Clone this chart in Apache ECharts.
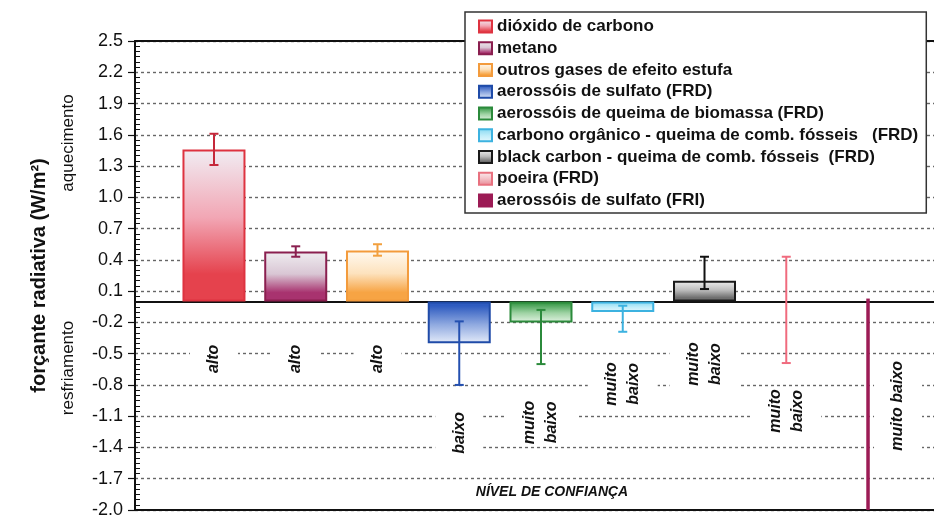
<!DOCTYPE html>
<html>
<head>
<meta charset="utf-8">
<script src="https://cdn.jsdelivr.net/npm/echarts@6/dist/echarts.min.js"></script>
<style>
  html, body { margin: 0; padding: 0; background: #fff; }
  #chart { width: 934px; height: 520px; }
</style>
</head>
<body>
<div id="chart"></div>
<script>
// Forçantes radiativas por agente (W/m²), com barras de incerteza
const categories = [
  'dióxido de carbono',
  'metano',
  'outros gases de efeito estufa',
  'aerossóis de sulfato (FRD)',
  'aerossóis de queima de biomassa (FRD)',
  'carbono orgânico - queima de comb. fósseis   (FRD)',
  'black carbon - queima de comb. fósseis  (FRD)',
  'poeira (FRD)',
  'aerossóis de sulfato (FRI)'
];
// best estimates for the agents drawn as bars (first seven categories)
const barValues = [1.46, 0.48, 0.49, -0.40, -0.20, -0.10, 0.20];
// uncertainty ranges (lower / upper), first eight categories
const errLow  = [1.31, 0.43, 0.44, -0.80, -0.60, -0.29, 0.12, -0.59];
const errHigh = [1.61, 0.53, 0.55, -0.19, -0.08, -0.04, 0.43, 0.43];
// indirect sulfate effect: range only
const friRange = [0.0, -2.0];
// level of scientific understanding
const confidence = ['alto', 'alto', 'alto', 'baixo', 'muito\nbaixo', 'muito\nbaixo', 'muito\nbaixo', 'muito\nbaixo', 'muito baixo'];
// y axis scale
const yMin = -2.0, yMax = 2.5, yStep = 0.3;

// ---- layout & styling ----
const FONT = '"Liberation Sans", Arial, sans-serif';
const confLabelY = [-0.55, -0.55, -0.55, -1.26, -1.16, -0.79, -0.60, -1.05, -1.00];
const confLabelDx = [0, 0, 0, 0, 0, 0, 0, 0, 30];

const styles = [
  { border: '#de3340', tip: '#f1edf3', mid: '#f2a6b4', base: '#e5424d', err: '#c5283a' },
  { border: '#8a1f4f', tip: '#efedf0', mid: '#d9c6d4', base: '#a8336f', err: '#8a1f4f' },
  { border: '#f39b3c', tip: '#fffaf2', mid: '#fde2bd', base: '#f7a444', err: '#f2a03e' },
  { border: '#1f4ba8', tip: '#e4ebf9', mid: '#8fa9e0', base: '#2e5bc0', err: '#2450b0' },
  { border: '#2b8a3b', tip: '#e2f2e2', mid: '#9fd3a4', base: '#3d9c4c', err: '#2b8a3b' },
  { border: '#3cb2e0', tip: '#e6f8fd', mid: '#c2eefa', base: '#8fdcf3', err: '#3cb2e0' },
  { border: '#1a1a1a', tip: '#f0f0f0', mid: '#bdbdbd', base: '#6e6e6e', err: '#111111' },
  { border: '#e8717f', tip: '#fbeef0', mid: '#f4c6cc', base: '#ec9aa4', err: '#f06b7e' },
  { border: '#9c1b55', tip: '#9c1b55', mid: '#9c1b55', base: '#9c1b55', err: '#9c1b55' }
];

function fill(s, positive) {
  const stops = positive
    ? [{ offset: 0, color: s.tip }, { offset: 0.45, color: s.mid }, { offset: 0.82, color: s.base }, { offset: 1, color: s.base }]
    : [{ offset: 0, color: s.base }, { offset: 0.1, color: s.base }, { offset: 0.55, color: s.mid }, { offset: 1, color: s.tip }];
  return new echarts.graphic.LinearGradient(0, 0, 0, 1, stops);
}

function errorBar(x, lo, hi, api, color) {
  const p1 = api.coord([x, lo]);
  const p2 = api.coord([x, hi]);
  const hw = 4.5;
  const st = { stroke: color, lineWidth: 2 };
  return {
    type: 'group',
    children: [
      { type: 'line', shape: { x1: p1[0], y1: p1[1], x2: p2[0], y2: p2[1] }, style: st },
      { type: 'line', shape: { x1: p1[0] - hw, y1: p1[1], x2: p1[0] + hw, y2: p1[1] }, style: st },
      { type: 'line', shape: { x1: p2[0] - hw, y1: p2[1], x2: p2[0] + hw, y2: p2[1] }, style: st }
    ]
  };
}

const series = [];

// bars
barValues.forEach((v, i) => {
  series.push({
    type: 'bar',
    name: categories[i],
    xAxisIndex: 0, yAxisIndex: 0,
    data: [[i, v]],
    barWidth: 63,
    barGap: '-100%',
    itemStyle: { color: fill(styles[i], v >= 0), borderColor: styles[i].border, borderWidth: 2 },
    emphasis: { disabled: true },
    z: 3
  });
});

// uncertainty ranges of the bars
series.push({
  type: 'custom',
  name: 'incerteza',
  xAxisIndex: 0, yAxisIndex: 0,
  data: barValues.map((v, i) => [i, errLow[i], errHigh[i]]),
  renderItem: (params, api) =>
    errorBar(api.value(0), api.value(1), api.value(2), api, styles[params.dataIndex].err),
  silent: true,
  z: 5
});

// dust: range only
series.push({
  type: 'custom',
  name: categories[7],
  xAxisIndex: 0, yAxisIndex: 0,
  data: [[7, errLow[7], errHigh[7]]],
  itemStyle: { color: fill(styles[7], true), borderColor: styles[7].border, borderWidth: 1.5 },
  renderItem: (params, api) => errorBar(api.value(0), api.value(1), api.value(2), api, styles[7].err),
  silent: true,
  z: 5
});

// indirect sulfate effect: thick range line
series.push({
  type: 'custom',
  name: categories[8],
  xAxisIndex: 0, yAxisIndex: 0,
  data: [[8, friRange[0], friRange[1]]],
  itemStyle: { color: styles[8].base, borderColor: styles[8].border, borderWidth: 1 },
  renderItem: (params, api) => {
    const p1 = api.coord([api.value(0), api.value(1)]);
    const p2 = api.coord([api.value(0), api.value(2)]);
    return { type: 'line', shape: { x1: p1[0], y1: p1[1] - 3, x2: p2[0], y2: p2[1] }, style: { stroke: styles[8].base, lineWidth: 3.5 } };
  },
  silent: true,
  z: 5
});

// confidence level labels
series.push({
  type: 'custom',
  name: 'confiança',
  xAxisIndex: 0, yAxisIndex: 0,
  data: confidence.map((t, i) => [i, confLabelY[i]]),
  renderItem: (params, api) => {
    const i = params.dataIndex;
    const p = api.coord([api.value(0), api.value(1)]);
    return {
      type: 'text',
      x: p[0] + confLabelDx[i],
      y: p[1],
      rotation: Math.PI / 2,
      style: {
        text: confidence[i],
        fill: '#111',
        font: 'italic bold 16px ' + FONT,
        align: 'center',
        verticalAlign: 'middle',
        lineHeight: 22,
        backgroundColor: '#fff',
        padding: [13, 2]
      }
    };
  },
  silent: true,
  z: 2
});

const xMin = -0.966, xMax = 8.807;
const hiddenX = { type: 'value', min: xMin, max: xMax, axisTick: { show: false }, axisLabel: { show: false }, splitLine: { show: false } };

const option = {
  animation: false,
  backgroundColor: '#fff',
  textStyle: { fontFamily: FONT },
  grid: { left: 135, right: 0, top: 41, bottom: 10, containLabel: false },
  legend: {
    data: categories,
    orient: 'vertical',
    left: 465, top: 12,
    padding: [6, 8, 4, 13],
    itemWidth: 13, itemHeight: 12,
    itemGap: 4.75,
    icon: 'rect',
    backgroundColor: '#fff',
    borderColor: '#333',
    borderWidth: 1.5,
    borderRadius: 0,
    selectedMode: false,
    textStyle: { fontFamily: FONT, fontSize: 17, fontWeight: 'bold', color: '#111' },
    z: 10
  },
  xAxis: [
    Object.assign({}, hiddenX, { axisLine: { show: true, onZero: true, lineStyle: { color: '#111', width: 2 } } }),
    Object.assign({}, hiddenX, { position: 'top', axisLine: { show: true, onZero: false, lineStyle: { color: '#111', width: 2 } } }),
    Object.assign({}, hiddenX, { position: 'bottom', axisLine: { show: true, onZero: false, lineStyle: { color: '#111', width: 2 } } })
  ],
  yAxis: [
    {
      type: 'value', min: yMin, max: yMax, interval: yStep,
      position: 'left',
      name: 'forçante radiativa (W/m²)',
      nameLocation: 'middle', nameGap: 86, nameRotate: 90,
      nameTextStyle: { fontFamily: FONT, fontSize: 20, fontWeight: 'bold', color: '#111' },
      axisLine: { show: true, onZero: false, lineStyle: { color: '#111', width: 2 } },
      axisTick: { show: true, inside: false, length: 7, lineStyle: { color: '#111', width: 1.2 } },
      axisLabel: { fontFamily: FONT, fontSize: 18, color: '#111', margin: 12, formatter: v => v.toFixed(1) },
      splitLine: { show: true, lineStyle: { color: '#666', width: 1.4, type: [3, 3] } }
    },
    {
      type: 'value', min: yMin, max: yMax, interval: yStep,
      position: 'left',
      axisLine: { show: false, onZero: false },
      axisTick: { show: false, inside: true },
      minorTick: { show: true, splitNumber: 6, length: 5, lineStyle: { color: '#111', width: 1 } },
      axisLabel: { show: false },
      splitLine: { show: false }
    }
  ],
  graphic: [
    { type: 'text', x: 68, y: 143, rotation: Math.PI / 2, style: { text: 'aquecimento', font: '17px ' + FONT, fill: '#111', align: 'center', verticalAlign: 'middle' } },
    { type: 'text', x: 68, y: 368, rotation: Math.PI / 2, style: { text: 'resfriamento', font: '17px ' + FONT, fill: '#111', align: 'center', verticalAlign: 'middle' } },
    { type: 'text', x: 552, y: 492, style: { text: 'NÍVEL DE CONFIANÇA', font: 'italic bold 14px ' + FONT, fill: '#111', align: 'center', verticalAlign: 'middle' } }
  ],
  series: series
};

const chart = echarts.init(document.getElementById('chart'), null, { renderer: 'canvas' });
chart.setOption(option);
</script>
</body>
</html>
